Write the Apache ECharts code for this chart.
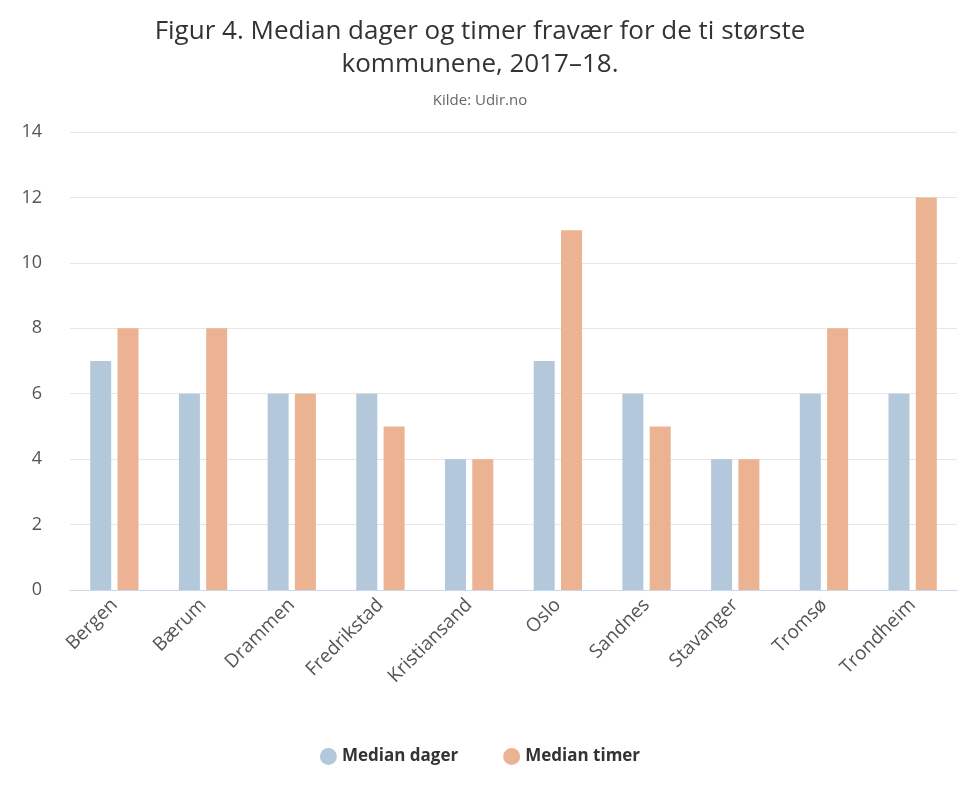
<!DOCTYPE html>
<html>
<head>
<meta charset="utf-8">
<script src="https://cdn.jsdelivr.net/npm/echarts@6/dist/echarts.min.js"></script>
<style>html,body{margin:0;background:#fff}#chart{width:960px;height:800px}</style>
</head>
<body>
<div id="chart"></div>
<script>
var categories = ['Bergen', 'Bærum', 'Drammen', 'Fredrikstad', 'Kristiansand', 'Oslo', 'Sandnes', 'Stavanger', 'Tromsø', 'Trondheim'];
var medianDager = [7, 6, 6, 6, 4, 7, 6, 4, 6, 6];
var medianTimer = [8, 8, 6, 5, 4, 11, 5, 4, 8, 12];

var chart = echarts.init(document.getElementById('chart'));
chart.setOption({
    animation: false,
    title: {
        text: 'Figur 4. Median dager og timer fravær for de ti største\nkommunene, 2017–18.',
        subtext: 'Kilde: Udir.no',
        left: 'center',
        top: 10,
        itemGap: 12,
        textStyle: { fontFamily: 'Open Sans', fontSize: 26, fontWeight: 'normal', color: '#333', lineHeight: 33 },
        subtextStyle: { fontFamily: 'Open Sans', fontSize: 15, color: '#666' }
    },
    legend: {
        bottom: 30,
        left: 'center',
        icon: 'circle',
        itemWidth: 17,
        itemHeight: 17,
        itemGap: 45,
        textStyle: { fontFamily: 'Open Sans', fontSize: 17, fontWeight: 'bold', color: '#333' }
    },
    grid: { left: 70, right: 3, top: 132, bottom: 210 },
    xAxis: {
        type: 'category',
        data: categories,
        axisTick: { show: false },
        axisLine: { lineStyle: { color: '#ccd6eb' } },
        axisLabel: { rotate: 45, fontFamily: 'Open Sans', fontSize: 19, color: '#555', margin: 12 }
    },
    yAxis: {
        type: 'value',
        min: 0,
        max: 14,
        interval: 2,
        axisLabel: { fontFamily: 'Open Sans', fontSize: 18, color: '#555', margin: 28 },
        splitLine: { lineStyle: { color: '#e6e6e6' } }
    },
    series: [
        { name: 'Median dager', type: 'bar', data: medianDager, barWidth: 21, barGap: '30%', itemStyle: { color: '#b3c8db' } },
        { name: 'Median timer', type: 'bar', data: medianTimer, barWidth: 21, itemStyle: { color: '#ecb393' } }
    ]
});
</script>
</body>
</html>
